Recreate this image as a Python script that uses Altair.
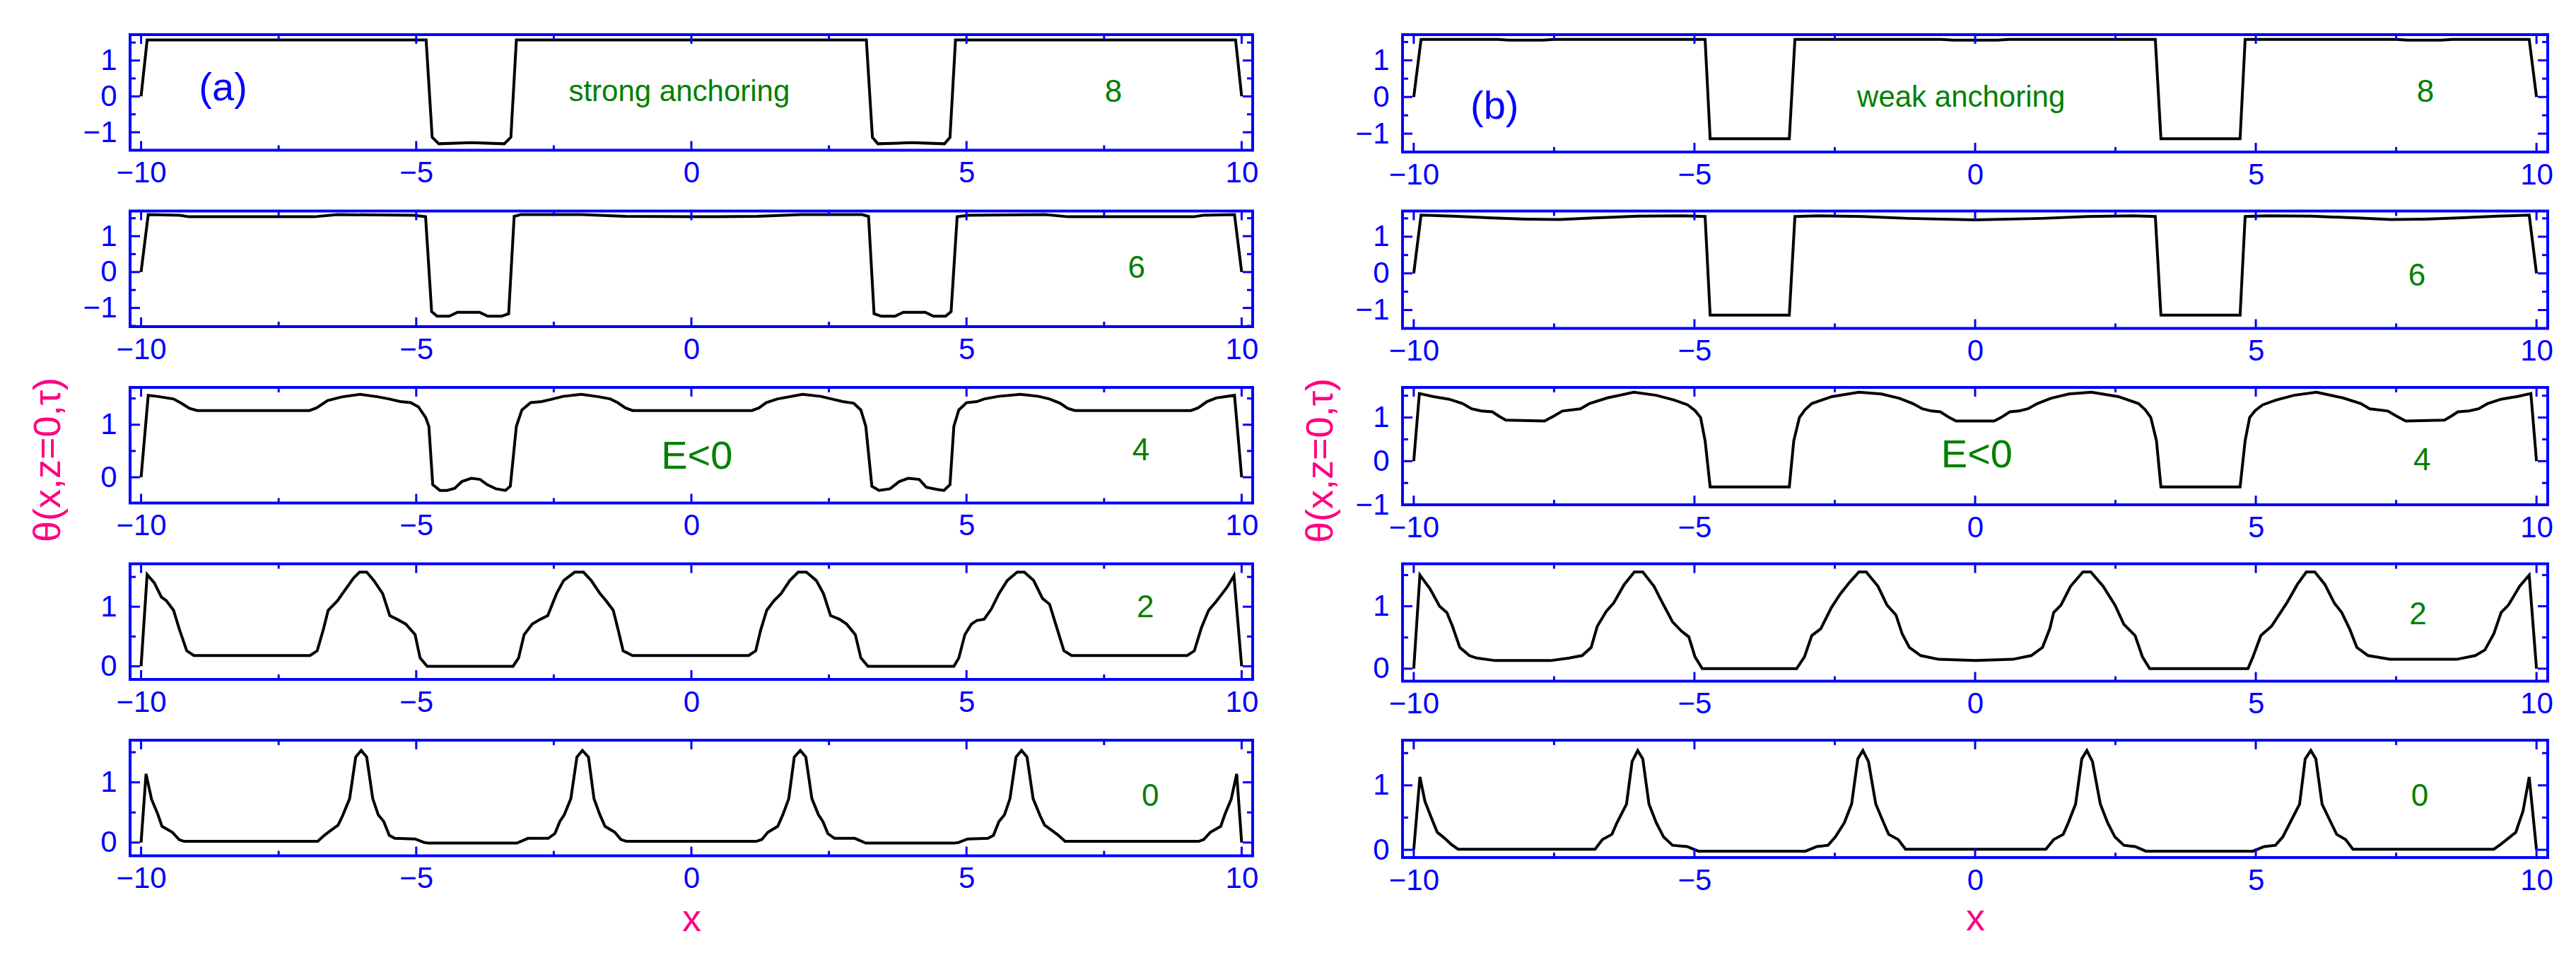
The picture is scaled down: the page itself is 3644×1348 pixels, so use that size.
import altair as alt
import pandas as pd

FONT = "Liberation Sans"
BLUE = "#0000FF"
GREEN = "#008000"
PINK = "#FF0080"

X_DOMAIN = [-10.2, 10.2]
X_MAJOR = [-10, -5, 0, 5, 10]
X_MINOR = [-7.5, -2.5, 2.5, 7.5]
TAU = ["8", "6", "4", "2", "0"]
Y_TITLE = "θ(x,z=0,τ)"

# ---------------- strong anchoring (a) ----------------
L8 = [(-10, 0), (-9.89, 1.57), (-4.82, 1.57), (-4.71, -1.14), (-4.59, -1.32), (-4.0, -1.29),
      (-3.4, -1.32), (-3.28, -1.14), (-3.18, 1.57), (3.18, 1.57), (3.29, -1.14), (3.39, -1.32),
      (4.0, -1.29), (4.6, -1.32), (4.7, -1.14), (4.8, 1.57), (9.89, 1.57), (10, 0)]

L6 = [(-10, 0), (-9.87, 1.6), (-9.3, 1.58), (-9.13, 1.54), (-6.85, 1.54), (-6.43, 1.6),
      (-5.04, 1.58), (-4.83, 1.54), (-4.72, -1.1), (-4.62, -1.23), (-4.4, -1.23), (-4.25, -1.12),
      (-3.85, -1.12), (-3.7, -1.23), (-3.45, -1.23), (-3.32, -1.16), (-3.22, 1.55), (-3.1, 1.6),
      (-2.0, 1.6), (-1.2, 1.55), (0.0, 1.54), (1.2, 1.55), (2.0, 1.6), (3.1, 1.6), (3.22, 1.55),
      (3.32, -1.16), (3.45, -1.23), (3.7, -1.23), (3.85, -1.12), (4.25, -1.12), (4.4, -1.23),
      (4.62, -1.23), (4.72, -1.1), (4.83, 1.54), (5.04, 1.58), (6.43, 1.6), (6.85, 1.54),
      (9.13, 1.54), (9.3, 1.58), (9.87, 1.6), (10, 0)]

L4 = [(-10, 0), (-9.87, 1.56), (-9.71, 1.54), (-9.41, 1.49), (-9.27, 1.41), (-9.12, 1.31),
      (-8.98, 1.27), (-6.94, 1.27), (-6.81, 1.32), (-6.61, 1.46), (-6.35, 1.53), (-6.02, 1.58),
      (-5.69, 1.53), (-5.49, 1.49), (-5.29, 1.44), (-5.1, 1.42), (-4.96, 1.34), (-4.83, 1.14),
      (-4.77, 0.97), (-4.7, -0.14), (-4.57, -0.25), (-4.44, -0.25), (-4.3, -0.21), (-4.17, -0.08),
      (-4.0, -0.02), (-3.84, -0.04), (-3.71, -0.14), (-3.55, -0.22), (-3.38, -0.25), (-3.29, -0.17),
      (-3.18, 0.97), (-3.08, 1.28), (-2.92, 1.42), (-2.72, 1.44), (-2.52, 1.49), (-2.33, 1.54),
      (-2.0, 1.58), (-1.67, 1.53), (-1.47, 1.49), (-1.34, 1.42), (-1.2, 1.32), (-1.07, 1.27),
      (1.1, 1.27), (1.23, 1.32), (1.36, 1.42), (1.56, 1.49), (2.02, 1.58), (2.35, 1.54),
      (2.55, 1.49), (2.75, 1.44), (2.95, 1.41), (3.08, 1.28), (3.17, 0.97), (3.28, -0.17),
      (3.41, -0.25), (3.61, -0.22), (3.78, -0.08), (3.94, -0.02), (4.14, -0.04), (4.27, -0.19),
      (4.46, -0.23), (4.59, -0.25), (4.7, -0.14), (4.77, 0.97), (4.86, 1.28), (5.0, 1.42),
      (5.19, 1.44), (5.32, 1.49), (5.58, 1.54), (5.98, 1.58), (6.31, 1.54), (6.51, 1.49),
      (6.7, 1.41), (6.84, 1.31), (6.97, 1.27), (9.08, 1.27), (9.21, 1.32), (9.37, 1.44),
      (9.54, 1.51), (9.87, 1.56), (10, 0)]

L2 = [(-10, 0), (-9.89, 1.54), (-9.76, 1.40), (-9.63, 1.16), (-9.54, 1.10), (-9.41, 0.94),
      (-9.3, 0.61), (-9.17, 0.26), (-9.04, 0.18), (-6.93, 0.18), (-6.8, 0.26), (-6.69, 0.61),
      (-6.6, 0.94), (-6.43, 1.10), (-6.34, 1.22), (-6.14, 1.48), (-6.03, 1.58), (-5.9, 1.58),
      (-5.77, 1.44), (-5.61, 1.22), (-5.48, 0.85), (-5.35, 0.79), (-5.19, 0.71), (-5.02, 0.53),
      (-4.93, 0.14), (-4.8, 0.0), (-3.24, 0.0), (-3.14, 0.14), (-3.04, 0.53), (-2.89, 0.71),
      (-2.74, 0.79), (-2.61, 0.85), (-2.45, 1.22), (-2.32, 1.44), (-2.12, 1.58), (-1.96, 1.58),
      (-1.82, 1.44), (-1.66, 1.22), (-1.55, 1.10), (-1.42, 0.94), (-1.33, 0.61), (-1.24, 0.26),
      (-1.07, 0.18), (1.04, 0.18), (1.17, 0.26), (1.26, 0.61), (1.37, 0.94), (1.5, 1.10),
      (1.63, 1.22), (1.79, 1.44), (1.94, 1.58), (2.09, 1.58), (2.27, 1.44), (2.4, 1.22),
      (2.53, 0.85), (2.69, 0.79), (2.82, 0.71), (2.98, 0.53), (3.08, 0.14), (3.21, 0.0),
      (4.77, 0.0), (4.86, 0.14), (4.97, 0.53), (5.09, 0.71), (5.19, 0.77), (5.32, 0.79),
      (5.45, 0.96), (5.59, 1.22), (5.74, 1.44), (5.92, 1.58), (6.05, 1.58), (6.22, 1.44),
      (6.38, 1.14), (6.51, 1.04), (6.64, 0.65), (6.77, 0.26), (6.91, 0.18), (9.01, 0.18),
      (9.14, 0.26), (9.27, 0.65), (9.4, 0.94), (9.53, 1.08), (9.73, 1.32), (9.86, 1.52), (10, 0)]

L0 = [(-10, 0), (-9.91, 1.14), (-9.81, 0.72), (-9.70, 0.48), (-9.62, 0.27), (-9.43, 0.17),
      (-9.31, 0.05), (-9.22, 0.02), (-6.79, 0.02), (-6.67, 0.12), (-6.57, 0.19), (-6.42, 0.29),
      (-6.34, 0.44), (-6.21, 0.73), (-6.1, 1.42), (-6.0, 1.53), (-5.9, 1.42), (-5.79, 0.73),
      (-5.69, 0.46), (-5.59, 0.35), (-5.49, 0.12), (-5.39, 0.07), (-5.02, 0.06), (-4.85, 0.0),
      (-4.77, -0.01), (-3.17, -0.01), (-2.97, 0.07), (-2.6, 0.07), (-2.48, 0.15), (-2.39, 0.35),
      (-2.31, 0.46), (-2.19, 0.73), (-2.08, 1.42), (-1.98, 1.53), (-1.87, 1.42), (-1.77, 0.73),
      (-1.67, 0.48), (-1.57, 0.27), (-1.39, 0.17), (-1.28, 0.05), (-1.18, 0.02), (1.18, 0.02),
      (1.28, 0.05), (1.39, 0.17), (1.57, 0.27), (1.67, 0.48), (1.77, 0.73), (1.87, 1.42),
      (1.98, 1.53), (2.08, 1.42), (2.19, 0.73), (2.31, 0.46), (2.39, 0.35), (2.48, 0.15),
      (2.6, 0.07), (2.97, 0.07), (3.17, -0.01), (4.77, -0.01), (4.85, 0.0), (5.02, 0.06),
      (5.39, 0.07), (5.49, 0.12), (5.59, 0.35), (5.69, 0.46), (5.79, 0.73), (5.9, 1.42),
      (6.0, 1.53), (6.1, 1.42), (6.21, 0.73), (6.34, 0.44), (6.42, 0.29), (6.57, 0.19),
      (6.67, 0.12), (6.79, 0.02), (9.22, 0.02), (9.31, 0.05), (9.43, 0.17), (9.62, 0.27),
      (9.70, 0.48), (9.81, 0.72), (9.91, 1.14), (10, 0)]

# ---------------- weak anchoring (b) ----------------
R8 = [(-10, 0), (-9.87, 1.57), (-8.5, 1.57), (-8.3, 1.55), (-7.7, 1.55), (-7.5, 1.57),
      (-4.81, 1.57), (-4.72, -1.14), (-3.31, -1.14), (-3.21, 1.57), (-0.6, 1.57), (-0.4, 1.55),
      (0.4, 1.55), (0.6, 1.57), (3.21, 1.57), (3.31, -1.14), (4.72, -1.14), (4.81, 1.57),
      (7.5, 1.57), (7.7, 1.55), (8.3, 1.55), (8.5, 1.57), (9.87, 1.57), (10, 0)]

R6 = [(-10, 0), (-9.87, 1.59), (-9.3, 1.56), (-8.6, 1.51), (-8.0, 1.48), (-7.4, 1.47),
      (-6.8, 1.51), (-6.0, 1.56), (-5.2, 1.57), (-4.81, 1.55), (-4.72, -1.14), (-3.31, -1.14),
      (-3.21, 1.55), (-2.8, 1.57), (-2.0, 1.55), (-1.2, 1.5), (0.0, 1.46), (1.2, 1.5),
      (2.0, 1.55), (2.8, 1.57), (3.21, 1.55), (3.31, -1.14), (4.72, -1.14), (4.81, 1.55),
      (5.2, 1.57), (6.0, 1.56), (6.8, 1.51), (7.4, 1.47), (8.0, 1.48), (8.6, 1.51),
      (9.3, 1.56), (9.87, 1.59), (10, 0)]

R4 = [(-10, 0), (-9.9, 1.55), (-9.65, 1.48), (-9.37, 1.42), (-9.13, 1.32), (-8.97, 1.2),
      (-8.8, 1.15), (-8.6, 1.13), (-8.48, 1.03), (-8.36, 0.94), (-7.67, 0.92), (-7.51, 1.03),
      (-7.35, 1.15), (-7.03, 1.2), (-6.87, 1.32), (-6.55, 1.45), (-6.08, 1.58), (-5.68, 1.51),
      (-5.36, 1.4), (-5.12, 1.29), (-4.99, 1.16), (-4.89, 1.0), (-4.81, 0.47), (-4.72, -0.59),
      (-3.31, -0.59), (-3.23, 0.47), (-3.13, 1.0), (-3.03, 1.18), (-2.91, 1.32), (-2.55, 1.48),
      (-2.07, 1.58), (-1.67, 1.54), (-1.35, 1.44), (-1.11, 1.32), (-0.94, 1.2), (-0.78, 1.15),
      (-0.62, 1.13), (-0.46, 1.0), (-0.34, 0.92), (0.34, 0.92), (0.46, 1.0), (0.62, 1.13),
      (0.78, 1.15), (0.94, 1.2), (1.11, 1.32), (1.35, 1.44), (1.67, 1.54), (2.07, 1.58),
      (2.55, 1.48), (2.91, 1.32), (3.03, 1.18), (3.13, 1.0), (3.23, 0.47), (3.31, -0.59),
      (4.72, -0.59), (4.81, 0.47), (4.89, 1.0), (4.99, 1.16), (5.12, 1.29), (5.36, 1.4),
      (5.68, 1.51), (6.08, 1.58), (6.55, 1.45), (6.87, 1.32), (7.03, 1.2), (7.35, 1.15),
      (7.51, 1.03), (7.67, 0.92), (8.36, 0.94), (8.48, 1.03), (8.6, 1.13), (8.8, 1.15),
      (8.97, 1.2), (9.13, 1.32), (9.37, 1.42), (9.65, 1.48), (9.9, 1.55), (10, 0)]

R2 = [(-10, 0), (-9.89, 1.5), (-9.71, 1.28), (-9.54, 1.0), (-9.41, 0.9), (-9.31, 0.68),
      (-9.18, 0.34), (-9.01, 0.21), (-8.88, 0.17), (-8.55, 0.13), (-7.56, 0.13), (-7.23, 0.17),
      (-7.0, 0.21), (-6.84, 0.34), (-6.73, 0.68), (-6.57, 0.92), (-6.44, 1.05), (-6.25, 1.35),
      (-6.07, 1.55), (-5.92, 1.55), (-5.72, 1.32), (-5.59, 1.09), (-5.39, 0.75), (-5.23, 0.6),
      (-5.1, 0.51), (-4.99, 0.19), (-4.86, 0.0), (-3.18, 0.0), (-3.04, 0.19), (-2.91, 0.53),
      (-2.75, 0.64), (-2.56, 0.98), (-2.4, 1.2), (-2.23, 1.39), (-2.07, 1.55), (-1.94, 1.55),
      (-1.73, 1.32), (-1.57, 1.02), (-1.41, 0.86), (-1.3, 0.56), (-1.17, 0.34), (-0.97, 0.21),
      (-0.65, 0.15), (0.0, 0.13), (0.67, 0.15), (1.0, 0.21), (1.2, 0.34), (1.33, 0.64),
      (1.4, 0.9), (1.53, 1.02), (1.7, 1.32), (1.92, 1.55), (2.06, 1.55), (2.28, 1.32),
      (2.49, 1.02), (2.65, 0.71), (2.85, 0.53), (2.98, 0.19), (3.11, 0.0), (4.86, 0.0),
      (4.95, 0.19), (5.09, 0.53), (5.28, 0.68), (5.55, 1.05), (5.74, 1.35), (5.9, 1.55),
      (6.05, 1.55), (6.23, 1.35), (6.4, 1.05), (6.53, 0.9), (6.67, 0.64), (6.8, 0.34),
      (7.0, 0.21), (7.39, 0.15), (8.58, 0.15), (8.91, 0.21), (9.08, 0.3), (9.24, 0.56),
      (9.37, 0.9), (9.5, 1.02), (9.7, 1.32), (9.87, 1.5), (10, 0)]

R0 = [(-10, 0), (-9.89, 1.13), (-9.8, 0.75), (-9.67, 0.46), (-9.58, 0.27), (-9.45, 0.18),
      (-9.34, 0.09), (-9.21, 0.01), (-6.77, 0.01), (-6.64, 0.16), (-6.47, 0.24), (-6.38, 0.42),
      (-6.21, 0.71), (-6.11, 1.37), (-6.01, 1.54), (-5.92, 1.41), (-5.81, 0.71), (-5.68, 0.42),
      (-5.55, 0.2), (-5.39, 0.07), (-5.13, 0.05), (-4.93, -0.02), (-3.02, -0.02), (-2.82, 0.05),
      (-2.62, 0.07), (-2.49, 0.2), (-2.33, 0.42), (-2.2, 0.71), (-2.09, 1.41), (-2.0, 1.54),
      (-1.9, 1.37), (-1.77, 0.71), (-1.63, 0.42), (-1.54, 0.24), (-1.37, 0.16), (-1.24, 0.01),
      (1.26, 0.01), (1.4, 0.16), (1.57, 0.24), (1.66, 0.42), (1.79, 0.71), (1.9, 1.41),
      (1.99, 1.54), (2.09, 1.37), (2.23, 0.71), (2.36, 0.42), (2.49, 0.2), (2.65, 0.07),
      (2.85, 0.05), (3.04, -0.02), (4.95, -0.02), (5.15, 0.05), (5.35, 0.07), (5.48, 0.2),
      (5.61, 0.42), (5.78, 0.71), (5.88, 1.41), (5.98, 1.54), (6.07, 1.41), (6.18, 0.71),
      (6.34, 0.42), (6.44, 0.24), (6.6, 0.16), (6.73, 0.01), (9.24, 0.01), (9.37, 0.09),
      (9.5, 0.18), (9.63, 0.27), (9.76, 0.6), (9.87, 1.13), (10, 0)]

LEFT_CURVES = [L8, L6, L4, L2, L0]
RIGHT_CURVES = [R8, R6, R4, R2, R0]

LEFT_YDOM = [[-1.5, 1.72], [-1.52, 1.7], [-0.49, 1.71], [-0.22, 1.72], [-0.22, 1.7]]
RIGHT_YDOM = [[-1.5, 1.7], [-1.5, 1.7], [-1.0, 1.69], [-0.2, 1.68], [-0.12, 1.7]]
LEFT_YMAJ = [[-1, 0, 1], [-1, 0, 1], [0, 1], [0, 1], [0, 1]]
RIGHT_YMAJ = [[-1, 0, 1], [-1, 0, 1], [-1, 0, 1], [0, 1], [0, 1]]
LEFT_YMIN = [[-1.5, -0.5, 0.5, 1.5], [-1.5, -0.5, 0.5, 1.5], [0.5, 1.5], [0.5, 1.5], [0.5, 1.5]]
RIGHT_YMIN = [[-1.5, -0.5, 0.5, 1.5], [-1.5, -0.5, 0.5, 1.5], [-0.5, 0.5, 1.5], [0.5, 1.5], [0.5, 1.5]]

LEFT_TAU_X = [7.67, 8.09, 8.17, 8.25, 8.34]
LEFT_TAU_Y = [0.1, 0.1, 0.5, 0.98, 0.76]
RIGHT_TAU_X = [8.02, 7.87, 7.96, 7.89, 7.92]
RIGHT_TAU_Y = [0.12, -0.09, 0.0, 0.86, 0.82]

# extra labels per column: (panel index, x, y, text, size, color)
LEFT_NOTES = [(0, -8.51, 0.23, "(a)", 56, BLUE), (0, -0.22, 0.13, "strong anchoring", 42, GREEN),
              (2, 0.1, 0.39, "E<0", 56, GREEN)]
RIGHT_NOTES = [(0, -8.56, -0.27, "(b)", 56, BLUE), (0, -0.25, -0.02, "weak anchoring", 42, GREEN),
               (2, 0.03, 0.13, "E<0", 56, GREEN)]


def panel(pts, ydom, ymaj, ymin, W, H, notes, xtitle_y, ytitle_y):
    df = pd.DataFrame(pts, columns=["x", "y"])
    xs = alt.Scale(domain=X_DOMAIN, nice=False, zero=False)
    ys = alt.Scale(domain=ydom, nice=False, zero=False)
    xax = dict(values=X_MAJOR, ticks=False, domain=False, grid=False, labelFont=FONT,
               labelFontSize=42, labelColor=BLUE, labelPadding=12, labelFlush=False,
               labelOverlap=False)
    if xtitle_y is not None:
        # titleY is measured from the bottom axis line
        xax.update(titleFont=FONT, titleFontSize=54, titleColor=PINK, titleFontWeight="normal",
                   titleY=xtitle_y, titleBaseline="alphabetic")
    yax = dict(values=ymaj, ticks=False, domain=False, grid=False, labelFont=FONT,
               labelFontSize=42, labelColor=BLUE, labelPadding=19, labelOverlap=False)
    if ytitle_y is not None:
        yax.update(titleFont=FONT, titleFontSize=54, titleColor=PINK, titleFontWeight="normal",
                   titleX=-100, titleY=ytitle_y, titleBaseline="alphabetic", titleAngle=270,
                   titleAlign="center")
    xtitle_text = "x" if xtitle_y is not None else None
    ytitle_text = Y_TITLE if ytitle_y is not None else None

    def X(field):
        return alt.X(field, scale=xs, axis=alt.Axis(**xax), title=xtitle_text)

    def Y(field):
        return alt.Y(field, scale=ys, axis=alt.Axis(**yax), title=ytitle_text)

    line = alt.Chart(df).mark_line(color="black", strokeWidth=4).encode(
        x=X("x:Q"), y=Y("y:Q"))
    layers = [line]
    for vals, L in ((X_MAJOR, 13), (X_MINOR, 7)):
        base = alt.Chart(pd.DataFrame({"t": vals})).mark_rule(color=BLUE, strokeWidth=3)
        layers.append(base.encode(x=X("t:Q"), y=alt.value(H), y2=alt.value(H - L)))
        layers.append(base.encode(x=X("t:Q"), y=alt.value(0), y2=alt.value(L)))
    for vals, L in ((ymaj, 14), (ymin, 8)):
        base = alt.Chart(pd.DataFrame({"t": vals})).mark_rule(color=BLUE, strokeWidth=3)
        layers.append(base.encode(y=Y("t:Q"), x=alt.value(0), x2=alt.value(L)))
        layers.append(base.encode(y=Y("t:Q"), x=alt.value(W), x2=alt.value(W - L)))
    for (tx, ty, s, size, color) in notes:
        d = pd.DataFrame({"x": [tx], "y": [ty], "s": [s]})
        layers.append(alt.Chart(d).mark_text(font=FONT, fontSize=size, color=color,
                                             align="center", baseline="middle").encode(
            x=X("x:Q"), y=Y("y:Q"), text="s:N"))
    return alt.layer(*layers).properties(width=W, height=H)


def column(curves, ydoms, ymajs, ymins, taux, tauy, extra, W, H, ytitle_y, xtitle_y):
    charts = []
    for i in range(5):
        notes = [(taux[i], tauy[i], TAU[i], 44, GREEN)]
        notes += [(n[1], n[2], n[3], n[4], n[5]) for n in extra if n[0] == i]
        charts.append(panel(curves[i], ydoms[i], ymajs[i], ymins[i], W, H, notes,
                            xtitle_y=(xtitle_y if i == 4 else None),
                            ytitle_y=(ytitle_y if i == 2 else None)))
    return charts


LH, RH = 163.5, 166
left = alt.vconcat(*column(LEFT_CURVES, LEFT_YDOM, LEFT_YMAJ, LEFT_YMIN, LEFT_TAU_X, LEFT_TAU_Y,
                           LEFT_NOTES, 1588, LH, 102, 106),
                   spacing=85.5, bounds="flush")
right = alt.vconcat(*column(RIGHT_CURVES, RIGHT_YDOM, RIGHT_YMAJ, RIGHT_YMIN, RIGHT_TAU_X,
                            RIGHT_TAU_Y, RIGHT_NOTES, 1620, RH, 103, 102),
                    spacing=83.5, bounds="flush")

chart = alt.hconcat(left, right, spacing=57, bounds="full").properties(
    padding={"left": 31, "top": 37, "right": 5, "bottom": 5}
).configure_view(stroke=BLUE, strokeWidth=4)

chart.save("out.html", embed_options={"renderer": "svg", "actions": False})
